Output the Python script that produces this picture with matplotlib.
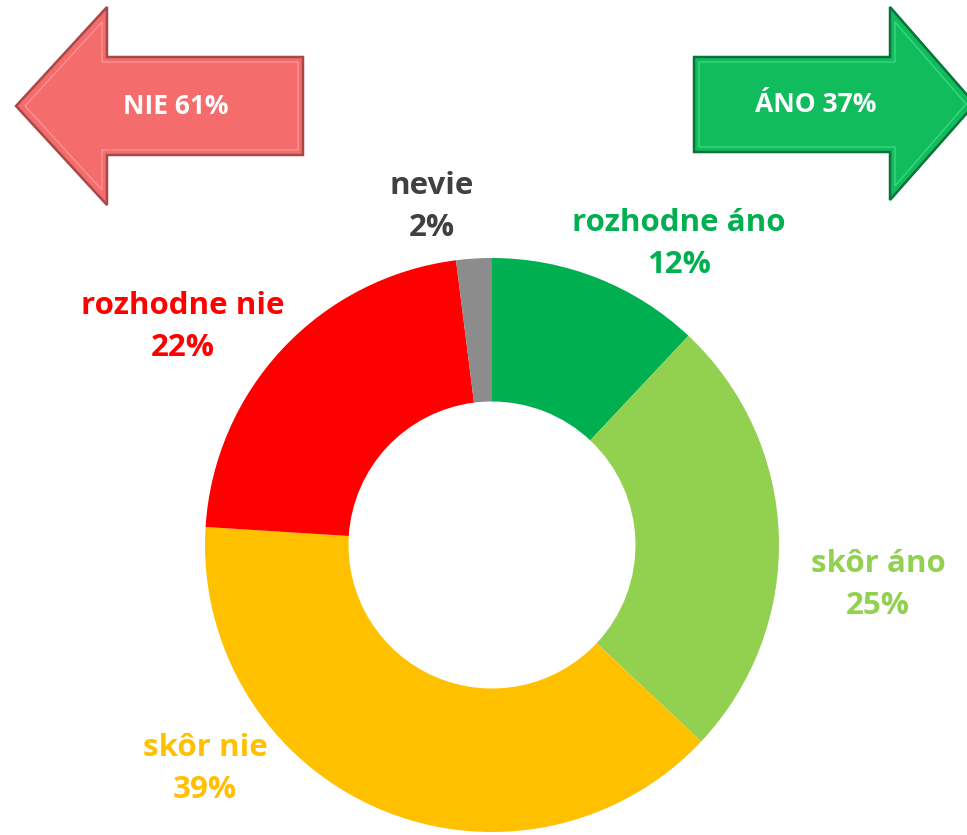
import matplotlib
matplotlib.use('Agg')
import matplotlib.pyplot as plt
from matplotlib.patches import Polygon

# Data
categories = ['rozhodne áno', 'skôr áno', 'skôr nie', 'rozhodne nie', 'nevie']
shares = [12, 25, 39, 22, 2]
colors = ['#00B050', '#92D050', '#FFC000', '#FF0000', '#8C8C8C']
label_colors = ['#00B050', '#92D050', '#FFC000', '#FF0000', '#404040']
summary_labels = ['NIE 61%', 'ÁNO 37%']

W, H = 967, 835
FONT = ['Open Sans', 'DejaVu Sans']

fig = plt.figure(figsize=(W / 100, H / 100), dpi=100)
fig.patch.set_facecolor('white')

# donut axes: centre (492, 545) px, radius 287 px
cx, cy, R = 492, 545, 287
ax = fig.add_axes([(cx - R) / W, (H - cy - R) / H, 2 * R / W, 2 * R / H])
ax.pie(shares, colors=colors, startangle=90, counterclock=False, radius=1,
       wedgeprops=dict(width=0.5, linewidth=0))
ax.set_xlim(-1, 1)
ax.set_ylim(-1, 1)
ax.set_aspect('equal')
ax.axis('off')

# overlay axes in pixel coords for arrows and labels
ov = fig.add_axes([0, 0, 1, 1], zorder=5)
ov.set_xlim(0, W)
ov.set_ylim(H, 0)
ov.axis('off')
ov.patch.set_alpha(0)


def bevel_arrow(pts, inner, face, edge, light):
    ov.add_patch(Polygon(pts, closed=True, facecolor=face, edgecolor=edge, lw=1.8))
    ov.add_patch(Polygon(inner, closed=True, facecolor='none', edgecolor=light, lw=1.0, alpha=0.8))


# left arrow (NIE)
left_outer = [(16, 106), (107, 7), (107, 57), (303, 57), (303, 155), (107, 155), (107, 205)]
left_inner = [(25, 106), (102, 22), (102, 62), (298, 62), (298, 150), (102, 150), (102, 190)]
bevel_arrow(left_outer, left_inner, '#F46C6C', '#A84848', '#FF9C9C')
ov.text(176, 107, summary_labels[0], color='white', fontsize=19, fontweight='bold',
        ha='center', va='center', family=FONT)

# right arrow (ÁNO)
right_outer = [(694, 57), (890, 57), (890, 7), (975, 104), (890, 200), (890, 152), (694, 152)]
right_inner = [(699, 62), (895, 62), (895, 22), (966, 104), (895, 186), (895, 147), (699, 147)]
bevel_arrow(right_outer, right_inner, '#10BC5C', '#08733A', '#46DE88')
ov.text(816, 104, summary_labels[1], color='white', fontsize=19, fontweight='bold',
        ha='center', va='center', family=FONT)

# slice labels
label_pos = [(679, 244), (878, 585), (205, 769), (183, 327), (432, 207)]
for cat, val, col, (x, y) in zip(categories, shares, label_colors, label_pos):
    ov.text(x, y, f'{cat}\n{val}%', color=col, fontsize=22.5, fontweight='bold',
            ha='center', va='center', family=FONT, linespacing=1.5)

fig.savefig('out.png', dpi=100)
